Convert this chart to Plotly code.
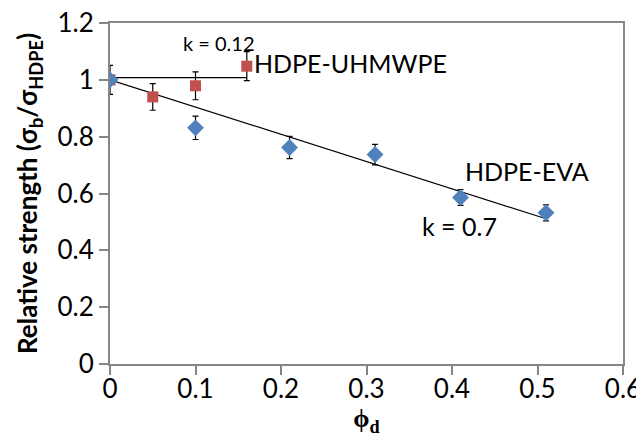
import plotly.graph_objects as go

# HDPE-EVA (blue diamonds)
eva_x = [0.0, 0.10, 0.21, 0.31, 0.41, 0.51]
eva_y = [1.0, 0.831, 0.762, 0.737, 0.586, 0.532]
eva_err = [0.0, 0.041, 0.039, 0.036, 0.028, 0.028]

# HDPE-UHMWPE (red squares)
uh_x = [0.0, 0.05, 0.10, 0.16]
uh_y = [1.0, 0.940, 0.979, 1.048]
uh_err = [0.051, 0.047, 0.049, 0.051]

# model lines (endpoints)
eva_fit_x = [0.0, 0.51]
eva_fit_y = [1.0, 0.511]
uh_fit_x = [0.0, 0.16]
uh_fit_y = [1.008, 1.008]

x_ticks = [0, 0.1, 0.2, 0.3, 0.4, 0.5, 0.6]
x_ticktext = ["0", "0.1", "0.2", "0.3", "0.4", "0.5", "0.6"]
y_ticks = [0, 0.2, 0.4, 0.6, 0.8, 1.0, 1.2]
y_ticktext = ["0", "0.2", "0.4", "0.6", "0.8", "1", "1.2"]

FONT = "Lato"
AX = "#868686"

fig = go.Figure()

fig.add_trace(go.Scatter(x=eva_fit_x, y=eva_fit_y, mode="lines",
                         line=dict(color="black", width=1.2), showlegend=False))
fig.add_trace(go.Scatter(x=uh_fit_x, y=uh_fit_y, mode="lines",
                         line=dict(color="black", width=1.2), showlegend=False))

fig.add_trace(go.Scatter(
    x=uh_x, y=uh_y, mode="markers",
    marker=dict(symbol="square", size=11, color="#C0504D"),
    error_y=dict(type="data", array=uh_err, visible=True, color="black",
                 thickness=1.2, width=3),
    showlegend=False))

fig.add_trace(go.Scatter(
    x=eva_x, y=eva_y, mode="markers",
    marker=dict(symbol="diamond", size=13, color="#4F81BD"),
    error_y=dict(type="data", array=eva_err, visible=True, color="black",
                 thickness=1.2, width=3),
    showlegend=False))

ann = [
    dict(text="k = 0.12", x=0.127, y=1.13, size=20, xanchor="center"),
    dict(text="HDPE-UHMWPE", x=0.166, y=1.058, size=25, xanchor="left"),
    dict(text="HDPE-EVA", x=0.413, y=0.68, size=25, xanchor="left"),
    dict(text="k = 0.7", x=0.363, y=0.484, size=25, xanchor="left"),
]
for a in ann:
    fig.add_annotation(text=a["text"], x=a["x"], y=a["y"], xref="x", yref="y",
                       xanchor=a["xanchor"], yanchor="middle", showarrow=False,
                       font=dict(family=FONT, size=a["size"], color="black"))

fig.update_xaxes(
    range=[0, 0.6], tickvals=x_ticks, ticktext=x_ticktext, automargin=False,
    showgrid=False, zeroline=False, showline=True, linecolor=AX, linewidth=2,
    mirror=True, ticks="outside", ticklen=9, tickcolor=AX, tickwidth=1.5,
    ticklabelstandoff=-8, ticklabeloverflow="allow",
    tickfont=dict(family=FONT, size=26, color="black"),
    title=dict(text="<b>ϕ<sub>d</sub></b>",
               font=dict(family="Liberation Serif", size=26, color="black"),
               standoff=0),
)
fig.update_yaxes(
    range=[0, 1.2], tickvals=y_ticks, ticktext=y_ticktext, automargin=False,
    showgrid=False, zeroline=False, showline=True, linecolor=AX, linewidth=2,
    mirror=True, ticks="outside", ticklen=9, tickcolor=AX, tickwidth=1.5,
    ticklabeloverflow="allow",
    tickfont=dict(family=FONT, size=26, color="black"),
    title=dict(text="<b>Relative strength (σ<sub>b</sub>/σ<sub>HDPE</sub>)</b>",
               font=dict(family=FONT, size=26, color="black"),
               standoff=12),
)

fig.update_layout(
    width=636, height=432,
    margin=dict(l=102, r=21, t=15, b=76),
    paper_bgcolor="white", plot_bgcolor="white",
    showlegend=False,
)

fig.write_html("out.html")
